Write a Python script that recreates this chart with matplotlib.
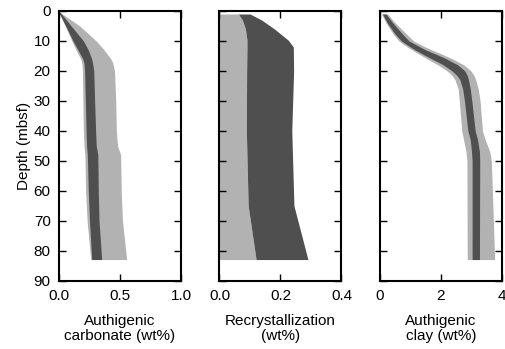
import matplotlib

matplotlib.use("Agg")
import matplotlib.pyplot as plt

plt.rcParams["font.family"] = ["Liberation Sans", "DejaVu Sans"]

LIGHT = "#b2b2b2"
DARK = "#4f4f4f"

# authigenic carbonate (wt%): wide range (light) and inner range (dark)
carb_depth = [0.5, 5, 10, 13, 16, 17.5, 20, 30, 40, 45, 48, 60, 70, 83]
carb_light_lo = [0.0, 0.05, 0.105, 0.14, 0.178, 0.188, 0.192, 0.196, 0.2, 0.205, 0.212, 0.218, 0.23, 0.26]
carb_light_hi = [0.01, 0.17, 0.305, 0.37, 0.425, 0.442, 0.455, 0.465, 0.47, 0.48, 0.505, 0.51, 0.52, 0.555]
carb_dark_lo = [0.0, 0.055, 0.115, 0.155, 0.195, 0.205, 0.21, 0.216, 0.222, 0.226, 0.232, 0.24, 0.25, 0.268]
carb_dark_hi = [0.01, 0.1, 0.2, 0.24, 0.268, 0.276, 0.285, 0.292, 0.3, 0.305, 0.318, 0.322, 0.328, 0.35]

# recrystallization (wt%): light from zero, dark above it
recr_depth = [1, 3, 6, 9.7, 12, 20, 40, 65, 83]
recr_light_hi = [0.062, 0.075, 0.085, 0.09, 0.09, 0.089, 0.088, 0.094, 0.12]
recr_dark_hi = [0.1, 0.138, 0.18, 0.225, 0.242, 0.243, 0.237, 0.244, 0.29]

# authigenic clay (wt%)
clay_depth = [1, 4, 7.5, 10, 11.5, 13, 14.5, 16, 18, 20, 21.5, 23, 26, 30, 40, 43, 47, 50, 83]
clay_light_lo = [0.05, 0.2, 0.42, 0.62, 0.82, 1.05, 1.3, 1.55, 1.9, 2.2, 2.36, 2.46, 2.56, 2.6, 2.68, 2.74, 2.82, 2.85, 2.86]
clay_light_hi = [0.25, 0.5, 0.85, 1.1, 1.38, 1.7, 2.05, 2.38, 2.75, 2.98, 3.08, 3.14, 3.22, 3.28, 3.36, 3.45, 3.6, 3.65, 3.76]
clay_dark_lo = [0.08, 0.24, 0.48, 0.7, 0.92, 1.15, 1.42, 1.7, 2.08, 2.36, 2.52, 2.62, 2.71, 2.77, 2.88, 2.96, 3.0, 3.02, 3.02]
clay_dark_hi = [0.2, 0.42, 0.72, 0.95, 1.22, 1.5, 1.85, 2.18, 2.55, 2.78, 2.86, 2.9, 2.96, 3.01, 3.12, 3.2, 3.26, 3.27, 3.26]

fig = plt.figure(figsize=(5.06, 3.49), dpi=100)
W = 506.0
H = 349.0
bottom = 1 - 280.5 / H
height = 269.5 / H
ax1 = fig.add_axes([59 / W, bottom, 122 / W, height])
ax2 = fig.add_axes([219.5 / W, bottom, 122 / W, height])
ax3 = fig.add_axes([380 / W, bottom, 122 / W, height])

ax1.fill_betweenx(carb_depth, carb_light_lo, carb_light_hi, color=LIGHT, lw=0)
ax1.fill_betweenx(carb_depth, carb_dark_lo, carb_dark_hi, color=DARK, lw=0)

ax2.fill_betweenx(recr_depth, 0, recr_light_hi, color=LIGHT, lw=0)
ax2.fill_betweenx(recr_depth, recr_light_hi, recr_dark_hi, color=DARK, lw=0)

ax3.fill_betweenx(clay_depth, clay_light_lo, clay_light_hi, color=LIGHT, lw=0)
ax3.fill_betweenx(clay_depth, clay_dark_lo, clay_dark_hi, color=DARK, lw=0)

FS = 11

ax1.set_xlim(0, 1.0)
ax1.set_xticks([0, 0.5, 1.0])
ax1.set_xticklabels(["0.0", "0.5", "1.0"])
ax1.set_xlabel("Authigenic\ncarbonate (wt%)", fontsize=FS, labelpad=8, linespacing=1.1)

ax2.set_xlim(0, 0.4)
ax2.set_xticks([0, 0.2, 0.4])
ax2.set_xticklabels(["0.0", "0.2", "0.4"])
ax2.set_xlabel("Recrystallization\n(wt%)", fontsize=FS, labelpad=8, linespacing=1.1)

ax3.set_xlim(0, 4)
ax3.set_xticks([0, 2, 4])
ax3.set_xlabel("Authigenic\nclay (wt%)", fontsize=FS, labelpad=8, linespacing=1.1)

for ax in (ax1, ax2, ax3):
    ax.set_ylim(90, 0)
    ax.set_yticks(range(0, 91, 10))
    ax.tick_params(direction="in", top=True, right=True, length=5, width=1,
                   labelsize=FS, pad=6)
    for spine in ax.spines.values():
        spine.set_linewidth(1.5)

ax1.set_ylabel("Depth (mbsf)", fontsize=FS, labelpad=2)
ax2.tick_params(labelleft=False)
ax3.tick_params(labelleft=False)

fig.savefig("out.png", dpi=100)
